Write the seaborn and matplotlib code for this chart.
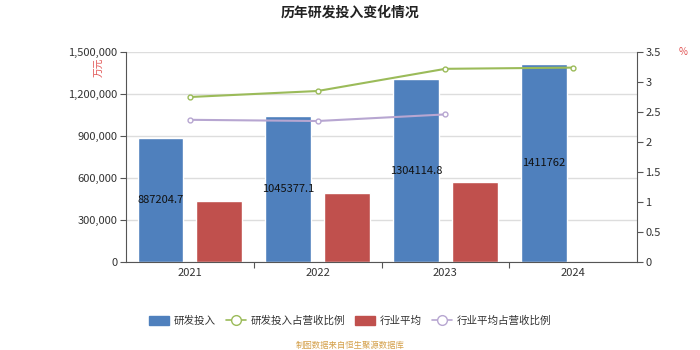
import numpy as np
import pandas as pd
import matplotlib
matplotlib.use("Agg")
import matplotlib.pyplot as plt
import seaborn as sns
from matplotlib.lines import Line2D
from matplotlib.patches import Patch

years = ["2021", "2022", "2023", "2024"]
rd_invest = [887204.7, 1045377.1, 1304114.8, 1411762]
industry_avg = [437000, 490000, 573000, np.nan]
rd_ratio = [2.75, 2.85, 3.22, 3.24]
industry_ratio = [2.37, 2.35, 2.46, np.nan]
rd_labels = ["887204.7", "1045377.1", "1304114.8", "1411762"]
series_names = ["研发投入", "研发投入占营收比例", "行业平均", "行业平均占营收比例"]
left_ticks = [0, 300000, 600000, 900000, 1200000, 1500000]
right_ticks = [0, 0.5, 1, 1.5, 2, 2.5, 3, 3.5]

sns.set_theme(style="white")
plt.rcParams['font.family'] = ['Noto Sans CJK SC', 'DejaVu Sans']
plt.rcParams['axes.unicode_minus'] = False

BLUE = "#4f80bd"
RED = "#c0504d"
GREEN = "#9bbb59"
PURPLE = "#b7a6d1"
AXC = "#555555"
TXT = "#333333"

fig = plt.figure(figsize=(7, 3.5), dpi=100)
ax = fig.add_axes([0.18, 0.2514, 0.73, 0.6])

df = pd.DataFrame({
    "year": years * 2,
    "value": rd_invest + industry_avg,
    "series": [series_names[0]] * 4 + [series_names[2]] * 4,
})
sns.barplot(data=df, x="year", y="value", hue="series", order=years,
            hue_order=[series_names[0], series_names[2]],
            palette=[BLUE, RED], width=0.92, gap=0.22, ax=ax,
            legend=False, saturation=1, errorbar=None)

ax.set_ylim(0, 1500000)
ax.set_xlim(-0.5, 3.5)
ax.set_yticks(left_ticks)
ax.set_yticklabels([f"{v:,}" for v in left_ticks], fontsize=8, color=TXT)
ax.set_xlabel("")
ax.set_ylabel("")
ax.tick_params(axis="x", length=0, labelsize=8, labelcolor=TXT, pad=4)
ax.tick_params(axis="y", length=4, width=0.8, color=AXC, direction="out", pad=2, left=True)
ax.set_xticks([0.5, 1.5, 2.5], minor=True)
ax.tick_params(axis="x", which="minor", length=4, width=0.8, color=AXC, bottom=True)
ax.grid(axis="y", color="#dddddd", linewidth=1)
ax.set_axisbelow(True)
for s in ["top", "right"]:
    ax.spines[s].set_visible(False)
ax.spines["left"].set_color(AXC)
ax.spines["bottom"].set_color(AXC)
ax.spines["left"].set_linewidth(0.8)
ax.spines["bottom"].set_linewidth(0.8)

# labels inside blue bars
blue_bars = ax.containers[0]
for bar, lab in zip(blue_bars, rd_labels):
    ax.text(bar.get_x() + bar.get_width() / 2, bar.get_height() / 2, lab,
            ha="center", va="center", fontsize=8, color="#111111")

ax2 = ax.twinx()
xs = np.arange(len(years))
ax2.plot(xs, rd_ratio, color=GREEN, lw=1.5, marker="o", ms=3.5,
         mfc="white", mec=GREEN, mew=1)
ax2.plot(xs, industry_ratio, color=PURPLE, lw=1.5, marker="o", ms=3.5,
         mfc="white", mec=PURPLE, mew=1)
ax2.set_ylim(0, 3.5)
ax2.set_yticks(right_ticks)
ax2.set_yticklabels([f"{v:g}" for v in right_ticks], fontsize=8, color=TXT)
ax2.tick_params(axis="y", length=4, width=0.8, color=AXC, direction="out", pad=2, right=True)
ax2.grid(False)
for s in ["top", "left", "bottom"]:
    ax2.spines[s].set_visible(False)
ax2.spines["right"].set_color(AXC)
ax2.spines["right"].set_linewidth(0.8)
ax2.set_xlim(-0.5, 3.5)

fig.text(0.5, 0.965, "历年研发投入变化情况", ha="center", va="center",
         fontsize=10, fontweight="bold", color="#222222")
fig.text(0.141, 0.808, "万元", ha="center", va="center", rotation=90,
         fontsize=7, color="#e05050")
fig.text(0.976, 0.852, "%", ha="center", va="center", fontsize=7, color="#e05050")

handles = [
    Patch(facecolor=BLUE, edgecolor=BLUE),
    Line2D([0], [0], color=GREEN, lw=1.2, marker="o", ms=7, mfc="white", mec=GREEN),
    Patch(facecolor=RED, edgecolor=RED),
    Line2D([0], [0], color=PURPLE, lw=1.2, marker="o", ms=7, mfc="white", mec=PURPLE),
]
fig.legend(handles, series_names, loc="center", bbox_to_anchor=(0.5, 0.083),
           ncol=4, frameon=False, fontsize=7.6, handlelength=1.9, handleheight=1.0,
           columnspacing=1.0, handletextpad=0.4, labelcolor=TXT)
fig.text(0.5, 0.013, "制图数据来自恒生聚源数据库", ha="center", va="center",
         fontsize=6, color="#d4a04a")

fig.savefig("out.png", dpi=100)
